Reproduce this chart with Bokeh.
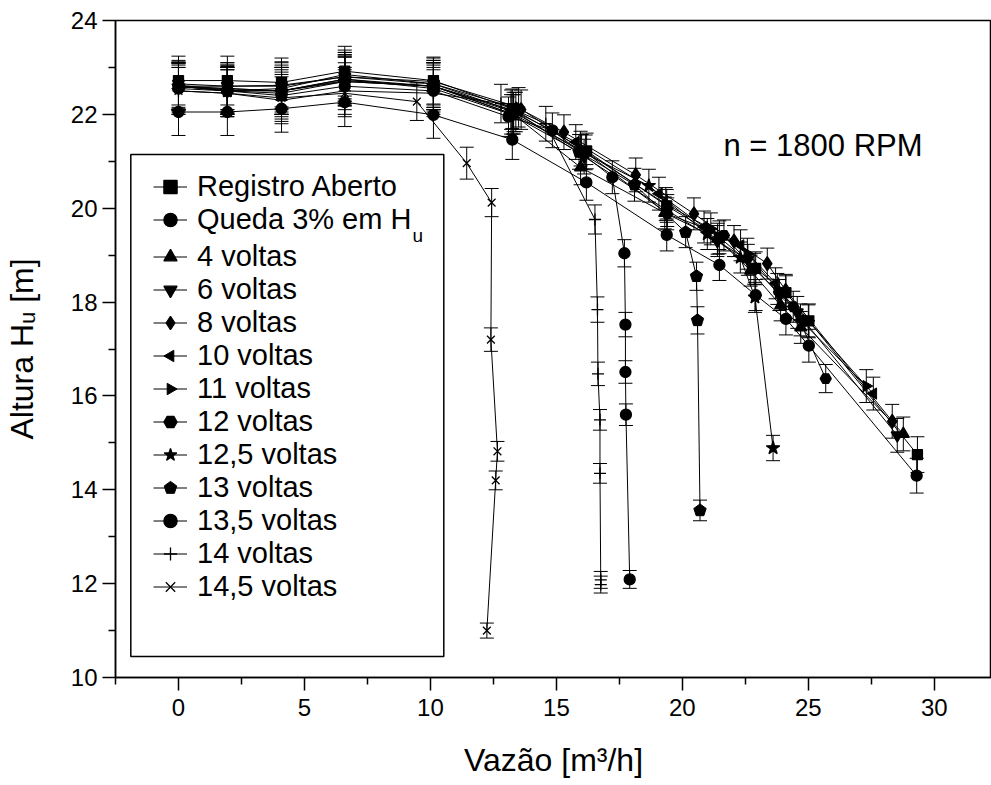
import math
from bokeh.plotting import figure
from bokeh.models import (ColumnDataSource, Whisker, TeeHead, Legend, LegendItem, Label,
                          BoxAnnotation, FixedTicker, Range1d)
from bokeh.embed import file_html
from bokeh.resources import INLINE

FONT = "Liberation Sans"

# ---------------- data ----------------
names = ["Registro Aberto", "Queda 3% em H", "4 voltas", "6 voltas", "8 voltas",
         "10 voltas", "11 voltas", "12 voltas", "12,5 voltas", "13 voltas",
         "13,5 voltas", "14 voltas", "14,5 voltas"]

reg_x = [0, 1.94, 4.09, 6.6, 10.12, 13.25, 16.2, 19.38, 21.47, 22.91, 24.11, 25.02, 29.33]
reg_y = [22.72, 22.72, 22.68, 22.92, 22.72, 22.12, 21.22, 20.05, 19.38, 18.72, 18.2, 17.6, 14.75]
reg_e = [0.52, 0.52, 0.52, 0.53, 0.5, 0.42, 0.38, 0.35, 0.35, 0.35, 0.36, 0.36, 0.38]

q3_x = [0, 1.94, 4.09, 6.6, 10.12, 13.25, 16.19, 19.38, 21.47, 22.91, 24.11, 25.02, 29.3]
q3_y = [22.05, 22.05, 22.12, 22.26, 21.99, 21.46, 20.55, 19.43, 18.79, 18.15, 17.64, 17.07, 14.3]
q3_e = [0.5, 0.5, 0.5, 0.52, 0.5, 0.42, 0.38, 0.34, 0.33, 0.33, 0.34, 0.35, 0.37]

v4_x = [0, 1.94, 4.09, 6.6, 10.12, 13.3, 15.96, 19.3, 21.4, 22.71, 23.9, 24.7, 28.77]
v4_y = [22.6, 22.55, 22.5, 22.75, 22.6, 22.0, 20.87, 19.9, 19.35, 18.67, 17.93, 17.46, 15.19]
v4_e = [0.5, 0.5, 0.5, 0.52, 0.5, 0.42, 0.37, 0.34, 0.33, 0.33, 0.33, 0.34, 0.36]

v6_x = [0, 1.94, 4.09, 6.6, 10.12, 13.39, 16.1, 19.4, 21.39, 22.6, 23.85, 24.56, 28.53]
v6_y = [22.65, 22.6, 22.6, 22.8, 22.65, 22.05, 21.1, 19.95, 19.3, 18.9, 18.15, 17.78, 15.16]
v6_e = [0.5, 0.5, 0.5, 0.52, 0.5, 0.42, 0.37, 0.34, 0.33, 0.33, 0.33, 0.34, 0.36]

v8_x = [0, 1.94, 4.09, 6.6, 10.12, 13.6, 15.3, 18.15, 20.46, 22.05, 23.37, 24.1, 28.33]
v8_y = [22.6, 22.5, 22.55, 22.85, 22.65, 22.1, 21.62, 20.71, 19.88, 19.3, 18.82, 18.25, 15.46]
v8_e = [0.5, 0.5, 0.5, 0.52, 0.5, 0.42, 0.37, 0.36, 0.34, 0.33, 0.33, 0.34, 0.36]

v10_x = [0, 1.94, 4.09, 6.6, 10.12, 13.2, 15.77, 19.07, 20.86, 22.31, 23.7, 24.69, 27.58]
v10_y = [22.62, 22.52, 22.5, 22.7, 22.6, 22.1, 21.41, 20.31, 19.6, 19.21, 18.4, 17.62, 16.05]
v10_e = [0.5, 0.5, 0.5, 0.52, 0.5, 0.42, 0.37, 0.35, 0.34, 0.33, 0.33, 0.34, 0.35]

v11_x = [0, 1.94, 4.09, 6.6, 10.12, 13.5, 15.96, 19.34, 21.13, 22.58, 23.77, 25.0, 27.3]
v11_y = [22.6, 22.6, 22.62, 22.8, 22.7, 22.15, 21.27, 20.09, 19.56, 19.03, 18.28, 17.6, 16.21]
v11_e = [0.5, 0.5, 0.5, 0.52, 0.5, 0.42, 0.37, 0.35, 0.34, 0.33, 0.33, 0.34, 0.35]

v12_x = [0, 1.94, 4.09, 6.6, 10.12, 13.3, 16.16, 19.4, 21.65, 22.85, 24.4, 25.69]
v12_y = [22.58, 22.55, 22.5, 22.72, 22.6, 22.0, 21.19, 19.88, 19.42, 18.71, 17.9, 16.37]
v12_e = [0.5, 0.5, 0.5, 0.52, 0.5, 0.42, 0.37, 0.34, 0.33, 0.33, 0.33, 0.3]

v125_x = [0, 1.94, 4.09, 6.6, 10.12, 13.3, 16.0, 18.67, 20.99, 22.3, 22.88, 23.6]
v125_y = [22.6, 22.5, 22.45, 22.7, 22.6, 22.05, 21.2, 20.48, 19.45, 18.95, 18.1, 14.89]
v125_e = [0.5, 0.5, 0.5, 0.52, 0.5, 0.42, 0.37, 0.35, 0.33, 0.33, 0.32, 0.27]

v13_x = [0, 1.94, 4.09, 6.6, 10.12, 13.2, 15.9, 18.1, 20.13, 20.56, 20.6, 20.7]
v13_y = [22.6, 22.5, 22.5, 22.75, 22.55, 22.0, 21.2, 20.5, 19.49, 18.55, 17.61, 13.56]
v13_e = [0.5, 0.5, 0.5, 0.52, 0.5, 0.42, 0.37, 0.35, 0.33, 0.3, 0.29, 0.22]

v135_x = [0, 1.94, 4.09, 6.6, 10.12, 13.1, 14.84, 17.22, 17.7, 17.74, 17.74, 17.76, 17.91]
v135_y = [22.55, 22.5, 22.4, 22.6, 22.5, 21.95, 21.66, 20.66, 19.04, 17.52, 16.51, 15.6, 12.09]
v135_e = [0.5, 0.5, 0.5, 0.5, 0.5, 0.42, 0.37, 0.35, 0.29, 0.26, 0.24, 0.23, 0.19]

v14_x = [0, 1.94, 4.09, 6.6, 10.12, 12.8, 14.58, 16.53, 16.63, 16.65, 16.73, 16.73, 16.76, 16.76]
v14_y = [22.5, 22.45, 22.3, 22.5, 22.45, 22.23, 21.8, 19.76, 17.84, 16.47, 15.49, 14.35, 12.08, 11.98]
v14_e = [0.5, 0.5, 0.5, 0.5, 0.5, 0.41, 0.37, 0.31, 0.27, 0.25, 0.22, 0.21, 0.18, 0.18]

v145_x = [0, 1.94, 4.09, 6.6, 9.46, 11.44, 12.43, 12.4, 12.66, 12.59, 12.24]
v145_y = [22.5, 22.45, 22.35, 22.45, 22.27, 20.96, 20.12, 17.2, 14.82, 14.2, 11.0]
v145_e = [0.5, 0.5, 0.5, 0.5, 0.4, 0.34, 0.3, 0.25, 0.21, 0.2, 0.16]

x_ticks = [0, 5, 10, 15, 20, 25, 30]
y_ticks = [10, 12, 14, 16, 18, 20, 22, 24]

series = [
    (reg_x, reg_y, reg_e), (q3_x, q3_y, q3_e), (v4_x, v4_y, v4_e), (v6_x, v6_y, v6_e),
    (v8_x, v8_y, v8_e), (v10_x, v10_y, v10_e), (v11_x, v11_y, v11_e),
    (v12_x, v12_y, v12_e), (v125_x, v125_y, v125_e), (v13_x, v13_y, v13_e),
    (v135_x, v135_y, v135_e), (v14_x, v14_y, v14_e), (v145_x, v145_y, v145_e),
]

# marker styles: (kind, marker / n-gon sides, size or radius, angle)
styles = [("m", "square", 10, 0), ("m", "circle", 11, 0), ("m", "triangle", 12, 0),
          ("m", "inverted_triangle", 12, 0), ("m", "diamond", 14, 0),
          ("n", 3, 6.5, math.pi / 2), ("n", 3, 6.5, -math.pi / 2),
          ("m", "hex", 11, 0), ("m", "star", 14, 0), ("n", 5, 6.5, 0),
          ("m", "circle", 11, 0), ("m", "cross", 12, 0), ("m", "x", 11, 0)]

# ---------------- figure ----------------
p = figure(width=991, height=785, output_backend="svg", toolbar_location=None,
           x_range=Range1d(-2.5, 32.27), y_range=Range1d(10, 24),
           min_border_left=115, min_border_right=0, min_border_top=20, min_border_bottom=108)
p.xgrid.visible = False
p.ygrid.visible = False
p.outline_line_color = "black"
p.outline_line_width = 1.5
p.background_fill_color = "white"
p.border_fill_color = "white"

p.xaxis.ticker = FixedTicker(ticks=x_ticks, minor_ticks=[-2.5 + 5 * i for i in range(8)])
p.yaxis.ticker = FixedTicker(ticks=y_ticks, minor_ticks=[11 + 2 * i for i in range(7)])
for ax in (p.xaxis, p.yaxis):
    ax.major_tick_in = 0
    ax.minor_tick_in = 0
    ax.major_tick_out = 13
    ax.minor_tick_out = 7
    ax.axis_line_width = 1.5
    ax.major_tick_line_width = 1.5
    ax.minor_tick_line_width = 1.5
    ax.major_label_text_font = FONT
    ax.major_label_text_font_size = "24px"
    ax.major_label_text_color = "black"
    ax.axis_line_color = "black"
    ax.axis_label_text_font = FONT
    ax.axis_label_text_font_size = "32px"
    ax.axis_label_text_font_style = "normal"
    ax.axis_label_text_color = "black"
p.xaxis.major_label_standoff = 8
p.yaxis.major_label_standoff = 5
p.xaxis.axis_label = "Vazão [m³/h]"
p.xaxis.axis_label_standoff = 23
p.yaxis.axis_label = "Altura Hᵤ [m]"
p.yaxis.axis_label_standoff = 28

items = []
for (xs, ys, es), (kind, mk, sz, ang) in zip(series, styles):
    src = ColumnDataSource(dict(x=xs, y=ys,
                                upper=[y + e for y, e in zip(ys, es)],
                                lower=[y - e for y, e in zip(ys, es)]))
    lr = p.line("x", "y", source=src, line_color="black", line_width=1)
    p.add_layout(Whisker(source=src, base="x", upper="upper", lower="lower",
                         dimension="height", line_color="black", line_width=1,
                         upper_head=TeeHead(size=14, line_color="black", line_width=1),
                         lower_head=TeeHead(size=14, line_color="black", line_width=1)))
    if kind == "n":
        mr = p.ngon("x", "y", radius=sz, radius_units="screen", n=mk, angle=ang,
                    source=src, fill_color="black", line_color="black")
    else:
        mr = p.scatter("x", "y", source=src, marker=mk, size=sz,
                       fill_color="black", line_color="black", line_width=1.3)
    items.append((lr, mr))

leg_common = dict(orientation="vertical", padding=0, margin=0, spacing=0,
                  glyph_width=34, glyph_height=33, label_height=33, label_standoff=10,
                  label_text_font=FONT, label_text_font_size="29px", label_text_color="black",
                  border_line_color=None, background_fill_alpha=0)
legA = Legend(items=[LegendItem(label=names[i], renderers=list(items[i])) for i in range(2)],
              location=(38, 441.5), **leg_common)
legB = Legend(items=[LegendItem(label=names[i], renderers=list(items[i])) for i in range(2, 13)],
              location=(38, 74.5), **leg_common)
p.add_layout(legA)
p.add_layout(legB)

p.add_layout(BoxAnnotation(left=15.3, right=328.3, bottom=21, top=523,
                           left_units="screen", right_units="screen",
                           bottom_units="screen", top_units="screen",
                           fill_alpha=0, line_color="black", line_alpha=1, line_width=1.5))
# subscript of the legend label "Queda 3% em H"
p.add_layout(Label(x=297, y=442, x_units="screen", y_units="screen", text="u",
                   text_font=FONT, text_font_size="19px", text_color="black",
                   text_baseline="alphabetic"))

p.add_layout(Label(x=608, y=532, x_units="screen", y_units="screen", text="n = 1800 RPM",
                   text_font=FONT, text_font_size="31px", text_color="black",
                   text_baseline="alphabetic"))

open("out.html", "w").write(file_html(p, INLINE))
